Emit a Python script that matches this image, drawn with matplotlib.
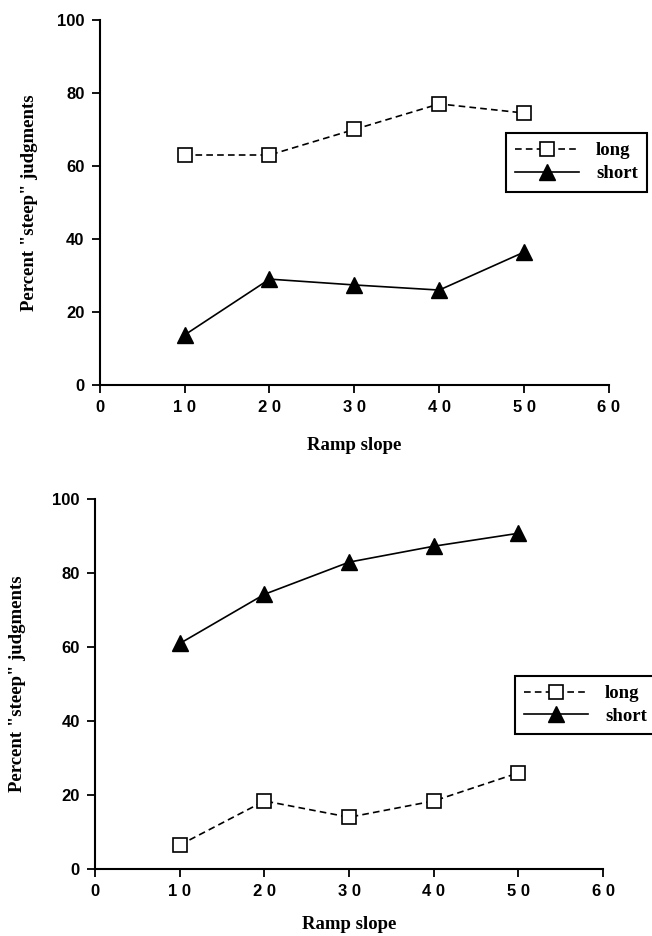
import matplotlib.pyplot as plt
import matplotlib

# data
slopes = [10, 20, 30, 40, 50]
top_long = [63, 63, 70, 77, 74.5]
top_short = [13.7, 29, 27.4, 26, 36.4]
bot_long = [6.5, 18.4, 14, 18.4, 26]
bot_short = [61, 74.3, 83, 87.3, 90.8]

x_ticks = [0, 10, 20, 30, 40, 50, 60]
x_tick_labels = ['0', '1 0', '2 0', '3 0', '4 0', '5 0', '6 0']
y_ticks = [0, 20, 40, 60, 80, 100]

matplotlib.rcParams['font.family'] = 'Liberation Sans'

fig = plt.figure(figsize=(6.52, 9.36), dpi=100)
ax_top = fig.add_axes([0.153, 0.5887, 0.781, 0.390])
ax_bot = fig.add_axes([0.146, 0.0716, 0.779, 0.395])

serif = {'family': 'Liberation Serif', 'weight': 'bold', 'size': 13.5}


def draw(ax, long_vals, short_vals, leg_anchor, xpad, ypad):
    ax.plot(slopes, long_vals, linestyle=(0, (4, 2.5)), color='black', lw=1.2,
            marker='s', markersize=10, markerfacecolor='white',
            markeredgecolor='black', markeredgewidth=1.2, label='long')
    ax.plot(slopes, short_vals, linestyle='-', color='black', lw=1.2,
            marker='^', markersize=11, markerfacecolor='black',
            markeredgecolor='black', label='short')
    ax.set_xlim(0, 60)
    ax.set_ylim(0, 100)
    ax.set_xticks(x_ticks)
    ax.set_xticklabels(x_tick_labels)
    ax.set_yticks(y_ticks)
    for s in ['top', 'right']:
        ax.spines[s].set_visible(False)
    for s in ['left', 'bottom']:
        ax.spines[s].set_linewidth(1.5)
    ax.tick_params(axis='both', direction='out', length=6, width=1.3,
                   labelsize=12, pad=5)
    for lab in ax.get_xticklabels() + ax.get_yticklabels():
        lab.set_fontweight('bold')
    ax.set_xlabel('Ramp slope', fontdict=serif, labelpad=xpad)
    ax.set_ylabel('Percent "steep" judgments', fontdict=serif, labelpad=ypad)
    leg = ax.legend(loc='upper left', bbox_to_anchor=leg_anchor,
                    bbox_transform=fig.transFigure, fancybox=False,
                    edgecolor='black', framealpha=1, handlelength=3.4,
                    handletextpad=0.9, borderpad=0.5, borderaxespad=0,
                    labelspacing=0.3,
                    prop={'family': 'Liberation Serif', 'weight': 'bold', 'size': 13.5})
    leg.get_frame().set_linewidth(1.5)


draw(ax_top, top_long, top_short, (0.776, 0.858), 16, 14)
draw(ax_bot, bot_long, bot_short, (0.790, 0.278), 12, 19)

fig.savefig('out.png', dpi=100)
